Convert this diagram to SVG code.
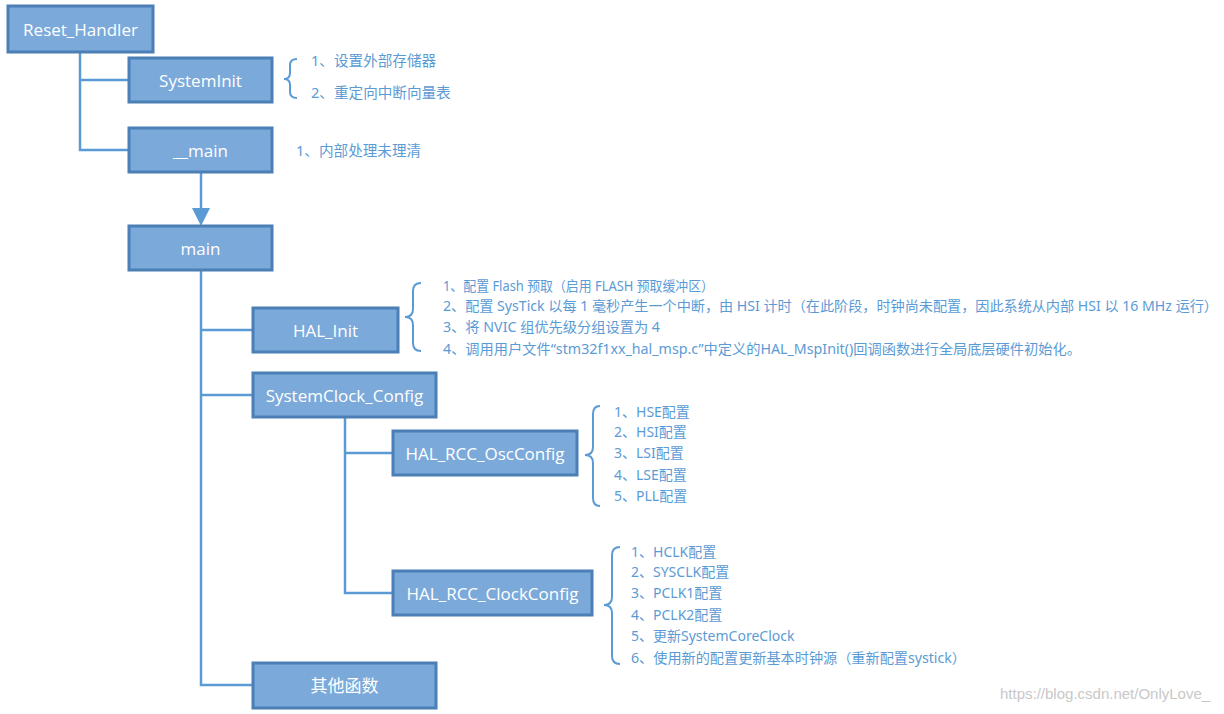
<svg xmlns="http://www.w3.org/2000/svg" width="1224" height="714" viewBox="0 0 1224 714">
<defs>
<style>
.box{fill:#7BA9DA;stroke:#4B7FB5;stroke-width:3}
.lbl{font-family:"Open Sans","Noto Sans","Noto Sans CJK SC",sans-serif;font-size:17px;fill:#ffffff;text-anchor:middle;dominant-baseline:central}
.ln{fill:none;stroke:#5B9BD5;stroke-width:2.5}
.br{fill:none;stroke:#5B9BD5;stroke-width:2}
.note{font-family:"Noto Sans","Noto Sans CJK SC",sans-serif;font-size:14px;fill:#5B9BD5;dominant-baseline:central}
.big{font-size:14.6px}
.wm{font-family:"Liberation Sans",Arial,sans-serif;font-size:15px;fill:#c8c8c8}
</style>
</defs>
<rect width="1224" height="714" fill="#ffffff"/>
<g id="connectors">
<path class="ln" d="M80,52 V150 H129 M80,80 H129"/>
<path class="ln" d="M201,172 V208"/>
<path d="M192,208 L210,208 L201,226 Z" fill="#5B9BD5"/>
<path class="ln" d="M201,270 V685 H253 M201,330 H253 M201,395 H253"/>
<path class="ln" d="M345,417 V593 H393 M345,453 H393"/>
</g>
<g id="reset_handler"><rect class="box" x="8" y="6" width="145" height="46"/><text class="lbl" x="80.5" y="29">Reset_Handler</text></g>
<g id="systeminit"><rect class="box" x="129" y="58" width="143" height="44"/><text class="lbl" x="200.5" y="80">SystemInit</text></g>
<g id="__main"><rect class="box" x="129" y="128" width="143" height="44"/><text class="lbl" x="200.5" y="150">__main</text></g>
<g id="main"><rect class="box" x="129" y="226" width="143" height="44"/><text class="lbl" x="200.5" y="248">main</text></g>
<g id="hal_init"><rect class="box" x="253" y="308" width="145" height="44"/><text class="lbl" x="325.5" y="330">HAL_Init</text></g>
<g id="systemclock_config"><rect class="box" x="253" y="373" width="183" height="44"/><text class="lbl" x="344.5" y="395">SystemClock_Config</text></g>
<g id="hal_rcc_oscconfig"><rect class="box" x="393" y="431" width="184" height="44"/><text class="lbl" x="485" y="453">HAL_RCC_OscConfig</text></g>
<g id="hal_rcc_clockconfig"><rect class="box" x="393" y="571" width="199" height="44"/><text class="lbl" x="492.5" y="593">HAL_RCC_ClockConfig</text></g>
<g id="other_funcs"><rect class="box" x="253" y="663" width="183" height="45"/><text class="lbl" x="344.5" y="685.5">其他函数</text></g>
<g id="note_systeminit">
<path class="br" d="M297,59 Q290,59 290,65 V73 Q290,79 284,79 Q290,79 290,85 V92 Q290,98 297,98"/>
<text class="note big" x="311" y="60">1、设置外部存储器</text>
<text class="note big" x="311" y="92">2、重定向中断向量表</text>
</g>
<g id="note_main">
<text class="note big" x="296" y="150">1、内部处理未理清</text>
</g>
<g id="note_hal_init">
<path class="br" d="M421,283 Q413,283 413,291 V309 Q413,317 405,317 Q413,317 413,325 V343 Q413,351 421,351"/>
<text class="note" x="443" y="285" textLength="271" lengthAdjust="spacingAndGlyphs">1、配置 Flash 预取（启用 FLASH 预取缓冲区）</text>
<text class="note" x="443" y="305" textLength="775" lengthAdjust="spacingAndGlyphs">2、配置 SysTick 以每 1 毫秒产生一个中断，由 HSI 计时（在此阶段，时钟尚未配置，因此系统从内部 HSI 以 16 MHz 运行）</text>
<text class="note" x="443" y="326" textLength="217" lengthAdjust="spacingAndGlyphs">3、将 NVIC 组优先级分组设置为 4</text>
<text class="note" x="443" y="348" textLength="638" lengthAdjust="spacingAndGlyphs">4、调用用户文件“stm32f1xx_hal_msp.c”中定义的HAL_MspInit()回调函数进行全局底层硬件初始化。</text>
</g>
<g id="note_osc">
<path class="br" d="M600,406 Q593,406 593,414 V447 Q593,455 585,455 Q593,455 593,463 V498 Q593,506 600,506"/>
<text class="note" x="614" y="411">1、HSE配置</text>
<text class="note" x="614" y="431">2、HSI配置</text>
<text class="note" x="614" y="452">3、LSI配置</text>
<text class="note" x="614" y="474">4、LSE配置</text>
<text class="note" x="614" y="495">5、PLL配置</text>
</g>
<g id="note_clock">
<path class="br" d="M620,547 Q612,547 612,555 V597 Q612,605 604,605 Q612,605 612,613 V656 Q612,664 620,664"/>
<text class="note" x="631" y="551">1、HCLK配置</text>
<text class="note" x="631" y="571">2、SYSCLK配置</text>
<text class="note" x="631" y="592">3、PCLK1配置</text>
<text class="note" x="631" y="614">4、PCLK2配置</text>
<text class="note" x="631" y="635">5、更新SystemCoreClock</text>
<text class="note" x="631" y="657" textLength="335" lengthAdjust="spacingAndGlyphs">6、使用新的配置更新基本时钟源（重新配置systick）</text>
</g>
<text class="wm" x="1000" y="699">https://blog.csdn.net/OnlyLove_</text>
</svg>
